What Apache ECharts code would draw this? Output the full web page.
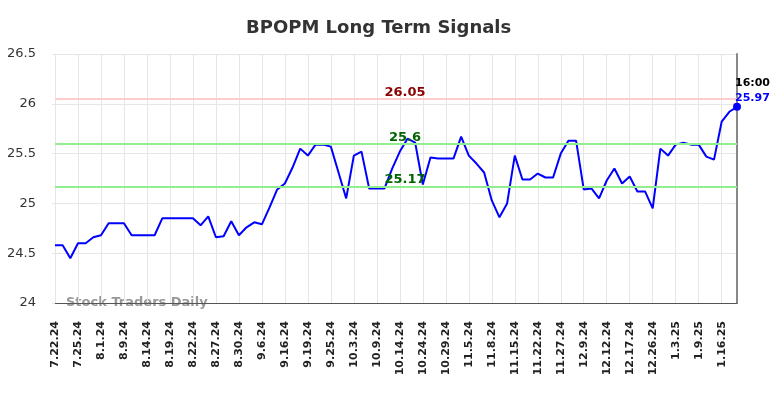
<!DOCTYPE html>
<html>
<head>
<meta charset="utf-8">
<script src="https://cdn.jsdelivr.net/npm/echarts@6/dist/echarts.min.js"></script>
<style>
  html, body { margin: 0; padding: 0; background: #fff; }
  #chart { width: 784px; height: 398px; }
</style>
</head>
<body>
<div id="chart"></div>
<script>
// tick labels, one every third trading day
const tickLabels = [
  '7.22.24', '7.25.24', '8.1.24', '8.9.24', '8.14.24', '8.19.24', '8.22.24', '8.27.24',
  '8.30.24', '9.6.24', '9.16.24', '9.19.24', '9.25.24', '10.3.24', '10.9.24', '10.14.24',
  '10.24.24', '10.29.24', '11.5.24', '11.8.24', '11.15.24', '11.22.24', '11.27.24', '12.9.24',
  '12.12.24', '12.17.24', '12.26.24', '1.3.25', '1.9.25', '1.16.25'
]

const prices = [
  24.58, 24.58, 24.45, 24.60, 24.60, 24.66, 24.68, 24.80, 24.80, 24.80,
  24.68, 24.68, 24.68, 24.68, 24.85, 24.85, 24.85, 24.85, 24.85, 24.78,
  24.87, 24.66, 24.67, 24.82, 24.68, 24.76, 24.81, 24.79, 24.96, 25.14,
  25.20, 25.36, 25.55, 25.48, 25.59, 25.59, 25.57, 25.31, 25.05, 25.48,
  25.52, 25.15, 25.15, 25.15, 25.35, 25.52, 25.65, 25.61, 25.19, 25.46,
  25.45, 25.45, 25.45, 25.67, 25.48, 25.40, 25.31, 25.03, 24.86, 25.00,
  25.48, 25.24, 25.24, 25.30, 25.26, 25.26, 25.50, 25.63, 25.63, 25.14,
  25.15, 25.05, 25.23, 25.35, 25.20, 25.27, 25.12, 25.12, 24.95, 25.55,
  25.48, 25.59, 25.61, 25.59, 25.59, 25.47, 25.44, 25.82, 25.92, 25.97
]

const resistance = 26.05
const upperSupport = 25.6
const lowerSupport = 25.17
const lastTime = '16:00'

const categories = prices.map((v, i) => i)
const lastIdx = prices.length - 1

const chart = echarts.init(document.getElementById('chart'))

const levelLine = (value, lineColor, textColor) => ({
  yAxis: value,
  lineStyle: { color: lineColor, width: 2, type: 'solid' },
  label: {
    show: true,
    position: 'insideMiddleTop',
    formatter: String(value),
    color: textColor,
    fontSize: 13,
    fontWeight: 'bold',
    fontFamily: 'DejaVu Sans',
    distance: 0,
    offset: [9, 0]
  }
})

const option = {
  animation: false,
  title: {
    text: 'BPOPM Long Term Signals',
    left: 241,
    top: 14,
    textStyle: { fontFamily: 'DejaVu Sans', fontSize: 18, fontWeight: 'bold', color: '#333' }
  },
  grid: { left: 55, right: 47, top: 54, bottom: 95 },
  xAxis: {
    type: 'category',
    data: categories,
    boundaryGap: false,
    axisLine: { lineStyle: { color: '#555', width: 1 } },
    axisTick: { show: false },
    axisLabel: {
      interval: 2,
      rotate: 90,
      margin: 18,
      fontSize: 11,
      fontFamily: 'DejaVu Sans',
      fontWeight: 'bold',
      color: '#222',
      formatter: (v, i) => tickLabels[i / 3] || ''
    },
    splitLine: { show: true, interval: 2, lineStyle: { color: '#e6e6e6', width: 1 } }
  },
  yAxis: [{
    type: 'value',
    min: 24,
    max: 26.5,
    interval: 0.5,
    axisLine: { show: false },
    axisTick: { show: true, length: 3, lineStyle: { color: '#e6e6e6' } },
    axisLabel: { fontSize: 13, fontFamily: 'DejaVu Sans', color: '#333', margin: 19 },
    splitLine: { lineStyle: { color: '#e6e6e6', width: 1 } }
  }, {
    type: 'value',
    min: 24,
    max: 26.5,
    position: 'right',
    axisLine: { show: true, lineStyle: { color: '#888', width: 2 } },
    axisTick: { show: false },
    axisLabel: { show: false },
    splitLine: { show: false }
  }],
  graphic: [{
    type: 'text',
    left: 66,
    top: 296,
    style: {
      text: 'Stock Traders Daily',
      fill: '#999',
      font: 'bold 13px "DejaVu Sans"'
    }
  }],
  series: [{
    type: 'line',
    data: prices,
    showSymbol: false,
    lineStyle: { color: '#0000ff', width: 2 },
    itemStyle: { color: '#0000ff' },
    markLine: {
      silent: true,
      symbol: 'none',
      data: [
        levelLine(resistance, '#ffcccc', '#8b0000'),
        levelLine(upperSupport, '#90ee90', '#006400'),
        levelLine(lowerSupport, '#90ee90', '#006400')
      ]
    },
    markPoint: {
      silent: true,
      data: [{
        coord: [lastIdx, prices[lastIdx]],
        symbol: 'circle',
        symbolSize: 8,
        itemStyle: { color: '#0000ff' },
        label: {
          show: true,
          position: 'top',
          align: 'left',
          offset: [-2, 8],
          formatter: '{t|' + lastTime + '}\n{v|' + prices[lastIdx].toFixed(2) + '}',
          rich: {
            t: { fontSize: 11, fontWeight: 'bold', color: '#000', fontFamily: 'DejaVu Sans', lineHeight: 15 },
            v: { fontSize: 11, fontWeight: 'bold', color: '#0000ff', fontFamily: 'DejaVu Sans', lineHeight: 15 }
          }
        }
      }]
    }
  }]
}

chart.setOption(option)
</script>
</body>
</html>
